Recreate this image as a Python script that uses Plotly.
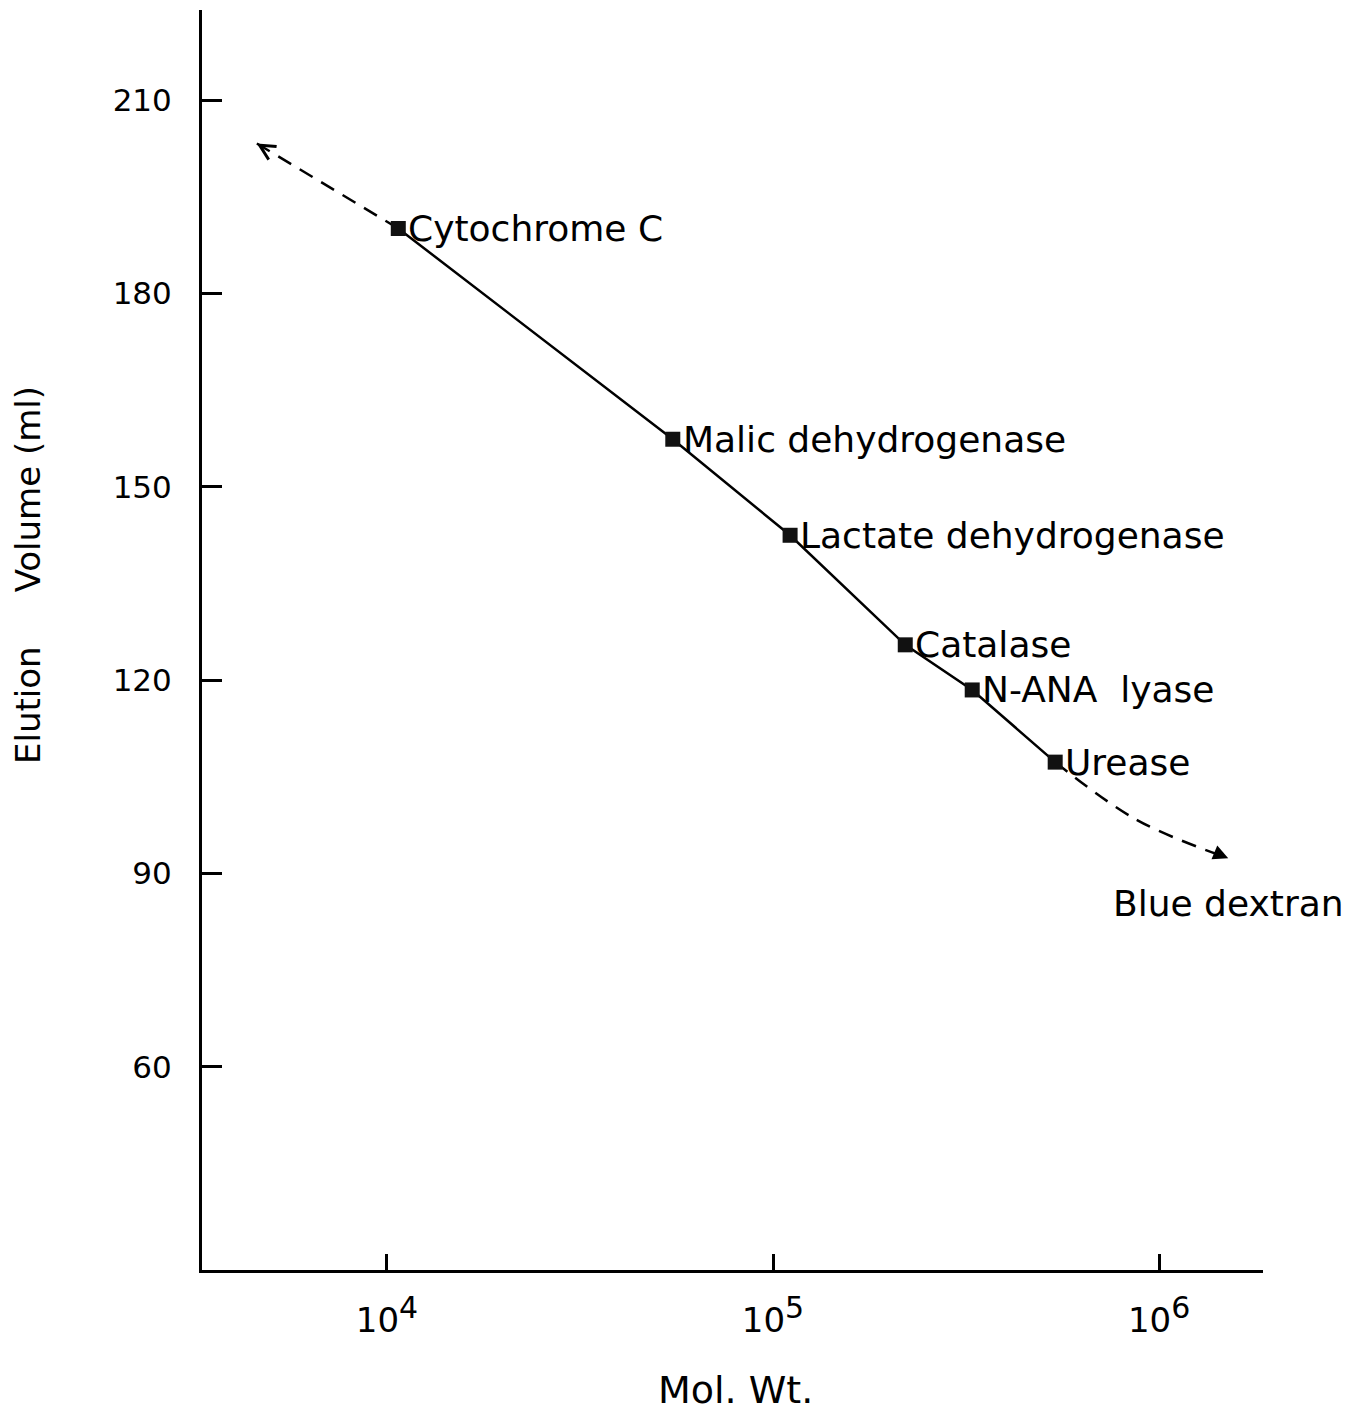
import math
import plotly.graph_objects as go

# Gel-filtration calibration: elution volume of marker proteins vs molecular weight
proteins = ["Cytochrome C", "Malic dehydrogenase", "Lactate dehydrogenase",
            "Catalase", "N-ANA\u00a0 lyase", "Urease"]
mol_wt = [10700, 55000, 110700, 220000, 328000, 538000]
elution_ml = [190.1, 157.4, 142.5, 125.5, 118.5, 107.3]

# Extrapolated ends of the calibration curve (dashed)
low_ext_mw = [10700, 4600]
low_ext_ml = [190.1, 203.3]
high_ext_mw = [538000, 877000, 1510000]
high_ext_ml = [107.3, 98.3, 92.4]
void_marker = "Blue dextran"

x_tickvals = [1e4, 1e5, 1e6]
x_exponents = ["4", "5", "6"]
y_tickvals = [60, 90, 120, 150, 180, 210]
y_ticktext = ["60", "90", "120", "150", "180", "210"]

FONT = "DejaVu Sans"
W, H = 1364, 1414
L, R, T, B = 202, 101, 10, 144
XR = [3.521, 6.269]
YR = [28.5, 224.0]

x_ticktext = ["10<sup><span style='font-size:30px'>%s</span></sup>" % e for e in x_exponents]


def to_px(mw, v):
    fx = (math.log10(mw) - XR[0]) / (XR[1] - XR[0])
    fy = (v - YR[0]) / (YR[1] - YR[0])
    return L + fx * (W - L - R), T + (1 - fy) * (H - T - B)


def arrow_tail(xs, ys, length=10):
    hx, hy = to_px(xs[-1], ys[-1])
    px_, py_ = to_px(xs[-2], ys[-2])
    dx, dy = px_ - hx, py_ - hy
    n = math.hypot(dx, dy)
    return dx / n * length, dy / n * length


fig = go.Figure()

fig.add_trace(go.Scatter(
    x=low_ext_mw, y=low_ext_ml, mode="lines",
    line=dict(color="black", width=2.5, dash="15px,10px"),
    showlegend=False, hoverinfo="skip"))
fig.add_trace(go.Scatter(
    x=high_ext_mw, y=high_ext_ml, mode="lines",
    line=dict(color="black", width=2.5, dash="15px,10px", shape="spline"),
    showlegend=False, hoverinfo="skip"))
fig.add_trace(go.Scatter(
    x=mol_wt, y=elution_ml, mode="lines+markers",
    line=dict(color="black", width=2.5),
    marker=dict(symbol="square", size=15, color="#111"),
    showlegend=False))

annotations = []
for name, mw, v in zip(proteins, mol_wt, elution_ml):
    annotations.append(dict(
        x=math.log10(mw), y=v, text=name, showarrow=False,
        xanchor="left", yanchor="middle", xshift=8,
        font=dict(family=FONT, size=36, color="black")))

# arrowheads at the ends of the dashed extrapolations
for xs, ys, head in ((low_ext_mw, low_ext_ml, 5), (high_ext_mw, high_ext_ml, 2)):
    ax, ay = arrow_tail(xs, ys)
    annotations.append(dict(
        x=math.log10(xs[-1]), y=ys[-1], ax=ax, ay=ay, text="",
        showarrow=True, arrowhead=head, arrowsize=1.2, arrowwidth=2.5,
        arrowcolor="black"))

annotations.append(dict(
    x=math.log10(high_ext_mw[-1]), y=high_ext_ml[-1], text=void_marker,
    showarrow=False, xanchor="center", yanchor="middle", yshift=-45,
    font=dict(family=FONT, size=36, color="black")))

annotations.append(dict(
    xref="paper", yref="paper", x=(735 - L) / (W - L - R), y=1 - (1390 - T) / (H - T - B),
    text="Mol. Wt.", showarrow=False, xanchor="center", yanchor="middle",
    font=dict(family=FONT, size=38, color="black")))
annotations.append(dict(
    xref="paper", yref="paper", x=(28 - L) / (W - L - R), y=1 - (575 - T) / (H - T - B),
    text="Elution" + "\u00a0" * 5 + "Volume (ml)", textangle=-90, showarrow=False,
    xanchor="center", yanchor="middle",
    font=dict(family=FONT, size=34, color="black")))

fig.update_layout(
    width=W, height=H,
    margin=dict(l=L, r=R, t=T, b=B),
    paper_bgcolor="white", plot_bgcolor="white",
    annotations=annotations,
    xaxis=dict(
        type="log", range=XR, tickvals=x_tickvals, ticktext=x_ticktext,
        ticks="inside", ticklen=16, tickwidth=2.5, tickcolor="black",
        showline=True, linewidth=3, linecolor="black",
        showgrid=False, zeroline=False, ticklabelstandoff=18,
        tickfont=dict(family=FONT, size=34, color="black")),
    yaxis=dict(
        range=YR, tickvals=y_tickvals, ticktext=y_ticktext,
        ticks="inside", ticklen=20, tickwidth=2.5, tickcolor="black",
        showline=True, linewidth=3, linecolor="black",
        showgrid=False, zeroline=False, ticklabelstandoff=21,
        tickfont=dict(family=FONT, size=31, color="black")),
)

fig.write_html("out.html")
